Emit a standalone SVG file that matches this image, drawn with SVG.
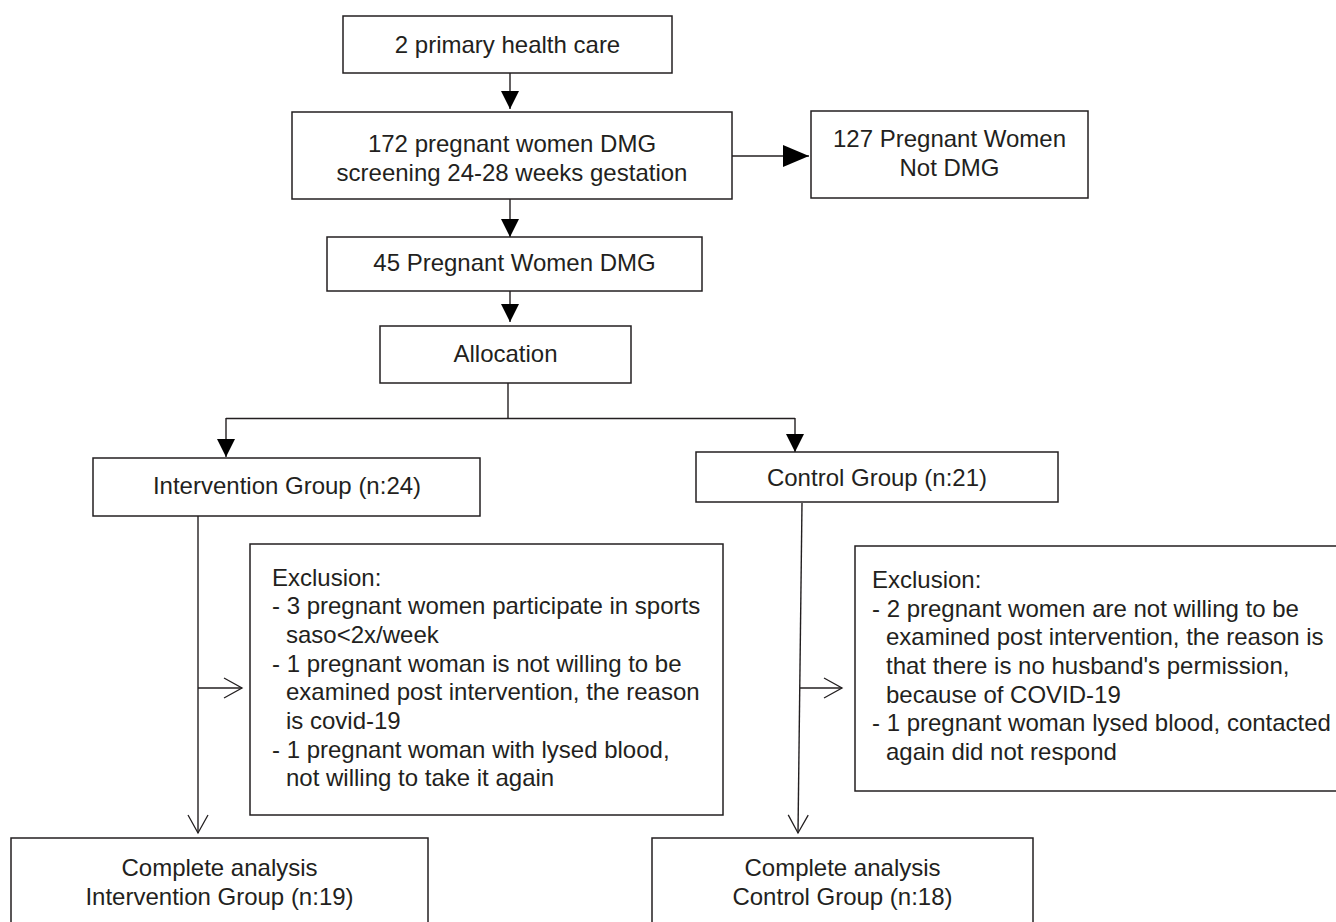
<svg xmlns="http://www.w3.org/2000/svg" width="1336" height="922" viewBox="0 0 1336 922">
<style>
.box{fill:#fff;stroke:#231f20;stroke-width:1.5}
.t{font-family:"Liberation Sans",Arial,sans-serif;font-size:24px;fill:#231f20}
.c{text-anchor:middle}
.ln{fill:none;stroke:#231f20;stroke-width:1.4}
</style>
<defs>
<marker id="fa" markerUnits="userSpaceOnUse" markerWidth="18" markerHeight="18" refX="18" refY="9" orient="auto"><path d="M0,0 L18,9 L0,18 z" fill="#000"/></marker>
<marker id="fb" markerUnits="userSpaceOnUse" markerWidth="26" markerHeight="22" refX="26" refY="11" orient="auto"><path d="M0,0 L26,11 L0,22 z" fill="#000"/></marker>
<marker id="oa" markerUnits="userSpaceOnUse" markerWidth="22" markerHeight="24" refX="19" refY="11" orient="auto"><path d="M1,1 L19,11 L1,21" fill="none" stroke="#231f20" stroke-width="1.3"/></marker>
</defs>
<rect width="1336" height="922" fill="#fff"/>
<g id="connectors">
<line class="ln" x1="510" y1="73" x2="510" y2="109" marker-end="url(#fa)"/>
<line class="ln" x1="510" y1="199" x2="510" y2="237" marker-end="url(#fa)"/>
<line class="ln" x1="732" y1="156" x2="809" y2="156" marker-end="url(#fb)"/>
<line class="ln" x1="510" y1="291" x2="510" y2="322" marker-end="url(#fa)"/>
<polyline class="ln" points="508,383 508,418"/>
<polyline class="ln" points="226,418.5 795,418.5"/>
<line class="ln" x1="226" y1="418" x2="226" y2="457" marker-end="url(#fa)"/>
<line class="ln" x1="795" y1="418" x2="795" y2="452" marker-end="url(#fa)"/>
<line class="ln" x1="198" y1="516" x2="198" y2="833" marker-end="url(#oa)"/>
<line class="ln" x1="198" y1="688" x2="242" y2="688" marker-end="url(#oa)"/>
<line class="ln" x1="802" y1="503" x2="798" y2="833" marker-end="url(#oa)"/>
<line class="ln" x1="800" y1="688" x2="842" y2="688" marker-end="url(#oa)"/>
</g>
<g id="n1"><rect class="box" x="343" y="16" width="329" height="57"/><text class="t c" x="507.5" y="53">2 primary health care</text></g>
<g id="n2"><rect class="box" x="292" y="112" width="440" height="87"/><text class="t c" x="512" y="152">172 pregnant women DMG</text><text class="t c" x="512" y="181">screening 24-28 weeks gestation</text></g>
<g id="n3"><rect class="box" x="811" y="111" width="277" height="87"/><text class="t c" x="949.5" y="147">127 Pregnant Women</text><text class="t c" x="949.5" y="176">Not DMG</text></g>
<g id="n4"><rect class="box" x="327" y="237" width="375" height="54"/><text class="t c" x="514.5" y="271">45 Pregnant Women DMG</text></g>
<g id="n5"><rect class="box" x="380" y="326" width="251" height="57"/><text class="t c" x="505.5" y="362">Allocation</text></g>
<g id="n6"><rect class="box" x="93" y="458" width="387" height="58"/><text class="t c" x="287" y="494">Intervention Group (n:24)</text></g>
<g id="n7"><rect class="box" x="696" y="452" width="362" height="50"/><text class="t c" x="877" y="486">Control Group (n:21)</text></g>
<g id="n8"><rect class="box" x="250" y="544" width="473" height="271"/>
<text class="t" x="272" y="586">Exclusion:</text>
<text class="t" x="272" y="614">- 3 pregnant women participate in sports</text>
<text class="t" x="286" y="643">saso&lt;2x/week</text>
<text class="t" x="272" y="672">- 1 pregnant woman is not willing to be</text>
<text class="t" x="286" y="700">examined post intervention, the reason</text>
<text class="t" x="286" y="729">is covid-19</text>
<text class="t" x="272" y="758">- 1 pregnant woman with lysed blood,</text>
<text class="t" x="286" y="786">not willing to take it again</text>
</g>
<g id="n9"><rect class="box" x="855" y="546" width="490" height="245"/>
<text class="t" x="872" y="588">Exclusion:</text>
<text class="t" x="872" y="617">- 2 pregnant women are not willing to be</text>
<text class="t" x="886" y="645">examined post intervention, the reason is</text>
<text class="t" x="886" y="674">that there is no husband's permission,</text>
<text class="t" x="886" y="703">because of COVID-19</text>
<text class="t" x="872" y="731">- 1 pregnant woman lysed blood, contacted</text>
<text class="t" x="886" y="760">again did not respond</text>
</g>
<g id="n10"><rect class="box" x="11" y="838" width="417" height="100"/><text class="t c" x="219.5" y="876">Complete analysis</text><text class="t c" x="219.5" y="905">Intervention Group (n:19)</text></g>
<g id="n11"><rect class="box" x="652" y="838" width="381" height="100"/><text class="t c" x="842.5" y="876">Complete analysis</text><text class="t c" x="842.5" y="905">Control Group (n:18)</text></g>
</svg>
